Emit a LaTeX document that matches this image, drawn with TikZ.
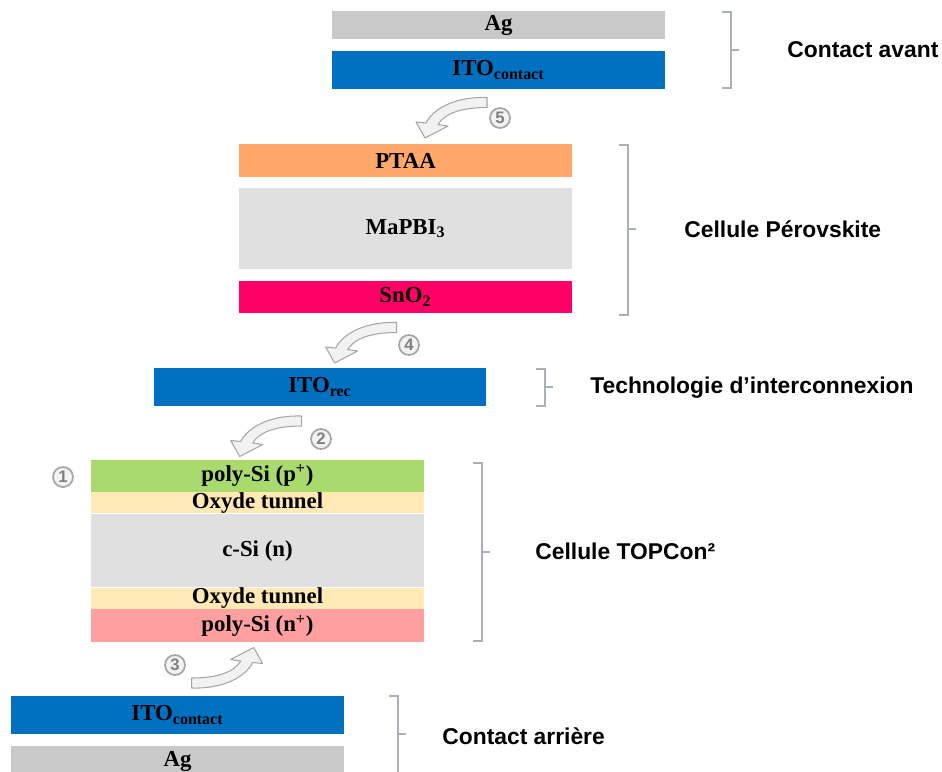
\documentclass[tikz,border=0pt]{standalone}
\usepackage{fontspec}
\setmainfont{Liberation Serif}
\newfontfamily\etiqfont{Liberation Sans}
\usepackage{tikz}
\usetikzlibrary{positioning}
\usepackage{xcolor}
\definecolor{colag}{HTML}{C9C9C9}
\definecolor{colito}{HTML}{0070C0}
\definecolor{colptaa}{HTML}{FFA86A}
\definecolor{colpero}{HTML}{E0E0E0}
\definecolor{colsno}{HTML}{FF0066}
\definecolor{colpsi}{HTML}{A8DA6E}
\definecolor{colox}{HTML}{FFE9B5}
\definecolor{colnsi}{HTML}{FF9F9F}
\definecolor{colaccol}{HTML}{A9B0B7}
\definecolor{colfleche}{HTML}{F2F2F2}
\definecolor{colbord}{HTML}{A6A6A6}
\definecolor{colchiffre}{HTML}{7F7F7F}
\newcommand{\accolade}[4]{%
  \draw[accol] ({#1-9},#2) -- (#1,#2) -- (#1,#3) -- ({#1-9},#3);
  \draw[accol] (#1,#4) -- ({#1+8},#4);}
\newcommand{\fleche}[3]{%
  \begin{scope}[shift={(#1,#2)},rotate=#3]
    \filldraw[courbe] (0,-5) .. controls (-30,-6) and (-53,5) .. (-61,20.5)
      -- (-71,19.5) -- (-62,35.5) -- (-39,23.5) -- (-49,22)
      .. controls (-43,12) and (-28,5) .. (0,5) -- cycle;
  \end{scope}}

\begin{document}
\begin{tikzpicture}[
  x=0.02cm, y=-0.02cm,
  couche/.style={rectangle,inner sep=0pt,minimum width=6.66cm,
    font=\fontsize{13}{15}\selectfont\bfseries},
  etiq/.style={anchor=west,inner sep=0pt,font=\etiqfont\fontsize{13}{15}\selectfont\bfseries},
  accol/.style={colaccol,line width=1.3pt},
  courbe/.style={fill=colfleche,draw=colbord,line width=0.6pt,line join=round},
  etape/.style={circle,draw=colbord,fill=colfleche,line width=1pt,minimum size=0.4cm,
    inner sep=0pt,text=colchiffre,font=\etiqfont\fontsize{9.5}{10}\selectfont\bfseries},
]
  \useasboundingbox (0,0) rectangle (942,771);
  % ---- contact avant ----
  \node[couche,fill=colag,minimum height=0.56cm]  (ag1)  at (498.5,25) {Ag};
  \node[couche,fill=colito,minimum height=0.76cm] (ito1) at (498.5,70) {ITO\textsubscript{contact}};
  % ---- cellule perovskite ----
  \node[couche,fill=colptaa,minimum height=0.66cm] (ptaa)  at (405.5,160.5) {PTAA};
  \node[couche,fill=colpero,minimum height=1.62cm] (mapbi) at (405.5,228.5) {MaPBI\textsubscript{3}};
  \node[couche,fill=colsno,minimum height=0.64cm]  (sno)   at (405.5,297)   {SnO\textsubscript{2}};
  % ---- interconnexion ----
  \node[couche,fill=colito,minimum height=0.76cm] (itorec) at (320,387) {ITO\textsubscript{rec}};
  % ---- cellule TOPCon ----
  \node[couche,fill=colpero,minimum height=1.46cm] (csi) at (257.5,550.5) {c-Si (n)};
  \node[couche,fill=colox,minimum height=0.42cm,above=0pt of csi]  (ox1) {Oxyde tunnel};
  \node[couche,fill=colpsi,minimum height=0.64cm,above=0pt of ox1] (psi) {poly-Si (p\textsuperscript{+})};
  \node[couche,fill=colox,minimum height=0.42cm,below=0pt of csi]  (ox2) {Oxyde tunnel};
  \node[couche,fill=colnsi,minimum height=0.66cm,below=0pt of ox2] (nsi) {poly-Si (n\textsuperscript{+})};
  % ---- contact arriere ----
  \node[couche,fill=colito,minimum height=0.76cm] (ito2) at (177.5,715) {ITO\textsubscript{contact}};
  \node[couche,fill=colag,minimum height=0.6cm]   (ag2)  at (177.5,761) {Ag};
  % ---- etapes ----
  \fleche{487}{102.5}{0}
  \fleche{396.7}{327.5}{0}
  \fleche{301.7}{421}{0}
  \fleche{191.7}{683}{180}
  \node[etape] (e1) at (63,477)  {1};
  \node[etape] (e2) at (321,439) {2};
  \node[etape] (e3) at (175,665) {3};
  \node[etape] (e4) at (409,345) {4};
  \node[etape] (e5) at (500,118) {5};
  % ---- accolades ----
  \accolade{731}{12}{88}{50}
  \accolade{628}{145}{315}{229}
  \accolade{545}{369}{406}{387}
  \accolade{482}{463}{641}{552}
  \accolade{398}{696}{780}{734}
  \node[etiq] (t1) at (787,50)  {Contact avant};
  \node[etiq] (t2) at (684,229) {Cellule Pérovskite};
  \node[etiq] (t3) at (590,388) {Technologie d’interconnexion};
  \node[etiq] (t4) at (535,551) {Cellule TOPCon²};
  \node[etiq] (t5) at (442,736) {Contact arrière};
\end{tikzpicture}
\end{document}
